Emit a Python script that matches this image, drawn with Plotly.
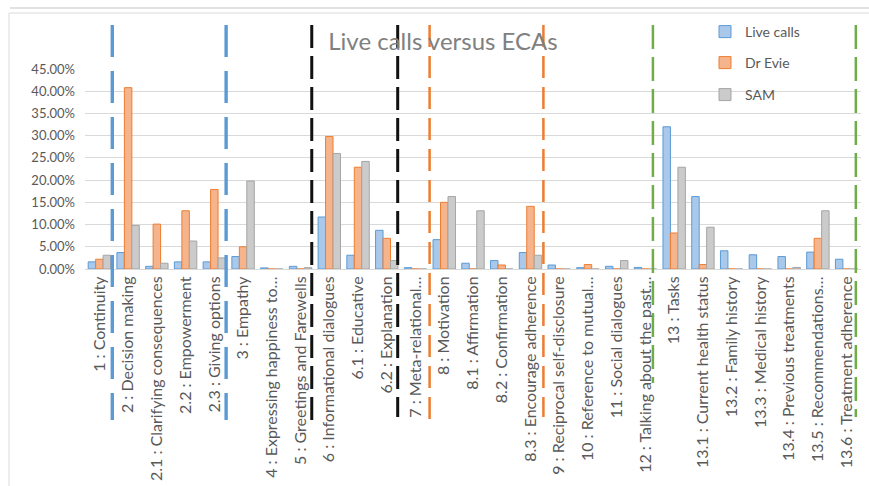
import numpy as np
import plotly.graph_objects as go

# Dialogue-act categories (x axis)
categories = [
    "1 : Continuity",
    "2 : Decision making",
    "2.1 : Clarifying consequences",
    "2.2 : Empowerment",
    "2.3 : Giving options",
    "3 : Empathy",
    "4 : Expressing happiness to…",
    "5 : Greetings and Farewells",
    "6 : Informational dialogues",
    "6.1 : Educative",
    "6.2 : Explanation",
    "7 : Meta-relational…",
    "8 : Motivation",
    "8.1 : Affirmation",
    "8.2 : Confirmation",
    "8.3 : Encourage adherence",
    "9 : Reciprocal self-disclosure",
    "10 : Reference to mutual…",
    "11 : Social dialogues",
    "12 : Talking about the past…",
    "13 : Tasks",
    "13.1 : Current health status",
    "13.2 : Family history",
    "13.3 : Medical history",
    "13.4 : Previous treatments",
    "13.5 : Recommendations…",
    "13.6 : Treatment adherence",
]

# Share of utterances per category, in percent
live_calls = [1.6, 3.7, 0.6, 1.6, 1.6, 2.8, 0.25, 0.6, 11.7, 3.1, 8.7, 0.3,
              6.6, 1.3, 1.9, 3.7, 0.9, 0.3, 0.6, 0.35, 32.0, 16.3, 4.1, 3.2,
              2.8, 3.8, 2.2]
dr_evie = [2.2, 40.8, 10.1, 13.1, 17.9, 5.0, 0.0, 0.0, 29.8, 22.9, 6.9, 0.0,
           15.0, 0.0, 0.9, 14.1, 0.0, 1.0, 0.0, 0.0, 8.1, 1.0, 0.0, 0.0,
           0.0, 6.9, 0.0]
sam = [3.1, 9.8, 1.3, 6.3, 2.5, 19.8, 0.0, 0.3, 26.0, 24.2, 1.9, 0.0,
       16.3, 13.1, 0.0, 3.1, 0.0, 0.0, 1.9, 0.0, 22.9, 9.4, 0.0, 0.0,
       0.35, 13.1, 0.0]

series = [
    ("Live calls", live_calls, "#a9c8ea", "#5b9bd5", "legend"),
    ("Dr Evie", dr_evie, "#f6b48c", "#ed7d31", "legend2"),
    ("SAM", sam, "#cbcbcb", "#a5a5a5", "legend3"),
]

# Group dividers: (position between categories, colour, width, dash, bottom px)
dividers = [
    (0.45, "#5b9bd5", 3.4, "32px,14px", 420),
    (4.41, "#5b9bd5", 3.4, "32px,14px", 420),
    (7.39, "#111111", 3.0, "23px,8px", 423),
    (10.38, "#111111", 3.0, "23px,8px", 417),
    (11.49, "#ed7d31", 2.5, "22px,9px", 420),
    (15.45, "#ed7d31", 2.5, "22px,9px", 417),
    (19.26, "#70ad47", 2.5, "24px,8px", 383),
    (26.32, "#70ad47", 2.5, "24px,8px", 417),
]

W, H = 869, 486
ML, MR, MT, MB = 85, 8, 69, 217
PW, PH = W - ML - MR, H - MT - MB


def px_x(px):
    return (px - ML) / PW


def px_y(py):
    return (H - MB - py) / PH


FONT = "Lato"
TXT = "#595959"

fig = go.Figure()
for name, vals, fill, edge, leg in series:
    fig.add_trace(go.Bar(
        x=categories,
        y=np.array(vals) / 100.0,
        name=name,
        marker=dict(color=fill, line=dict(color=edge, width=1)),
        legend=leg,
        showlegend=True,
    ))

shapes = []
# chart frame
shapes.append(dict(type="line", xref="paper", yref="paper",
                   x0=px_x(10), x1=px_x(869), y0=px_y(8), y1=px_y(8),
                   line=dict(color="#c6c6c6", width=1.2), layer="below"))
shapes.append(dict(type="rect", xref="paper", yref="paper",
                   x0=px_x(9), x1=px_x(872), y0=px_y(13), y1=px_y(492),
                   line=dict(color="#dadada", width=1), layer="below"))
for xpos, col, w, dash, bottom in dividers:
    shapes.append(dict(type="line", xref="x", yref="paper",
                       x0=xpos, x1=xpos, y0=px_y(25), y1=px_y(bottom),
                       line=dict(color=col, width=w, dash=dash), layer="above"))

legend_common = dict(
    orientation="v", xanchor="left", yanchor="middle",
    bgcolor="rgba(0,0,0,0)", font=dict(family=FONT, size=14, color=TXT),
    itemwidth=30,
)

fig.update_layout(
    width=W, height=H,
    margin=dict(l=ML, r=MR, t=MT, b=MB, autoexpand=False),
    paper_bgcolor="white", plot_bgcolor="white",
    showlegend=True,
    barmode="group", bargap=0.22, bargroupgap=0.0,
    title=dict(text="Live calls versus ECAs", x=443 / W, xanchor="center",
               xref="container", yref="container", y=1 - 42 / H,
               yanchor="middle",
               font=dict(family=FONT, size=24, color="#808080")),
    legend=dict(x=px_x(705), y=px_y(32), **legend_common),
    legend2=dict(x=px_x(705), y=px_y(63), **legend_common),
    legend3=dict(x=px_x(705), y=px_y(95), **legend_common),
    shapes=shapes,
    xaxis=dict(
        type="category", tickangle=-90, showgrid=False, automargin=False,
        showline=True, linecolor="#d9d9d9", linewidth=1,
        ticks="", tickfont=dict(family=FONT, size=16, color=TXT),
        range=[-0.5, len(categories) - 0.5],
    ),
    yaxis=dict(
        range=[0, 0.45], dtick=0.05, tickformat=".2%", automargin=False,
        showgrid=True, gridcolor="#d9d9d9", gridwidth=1,
        zeroline=False, showline=False, ticks="",
        ticklabelstandoff=9,
        tickfont=dict(family=FONT, size=13, color=TXT),
    ),
)

fig.write_html("out.html")
